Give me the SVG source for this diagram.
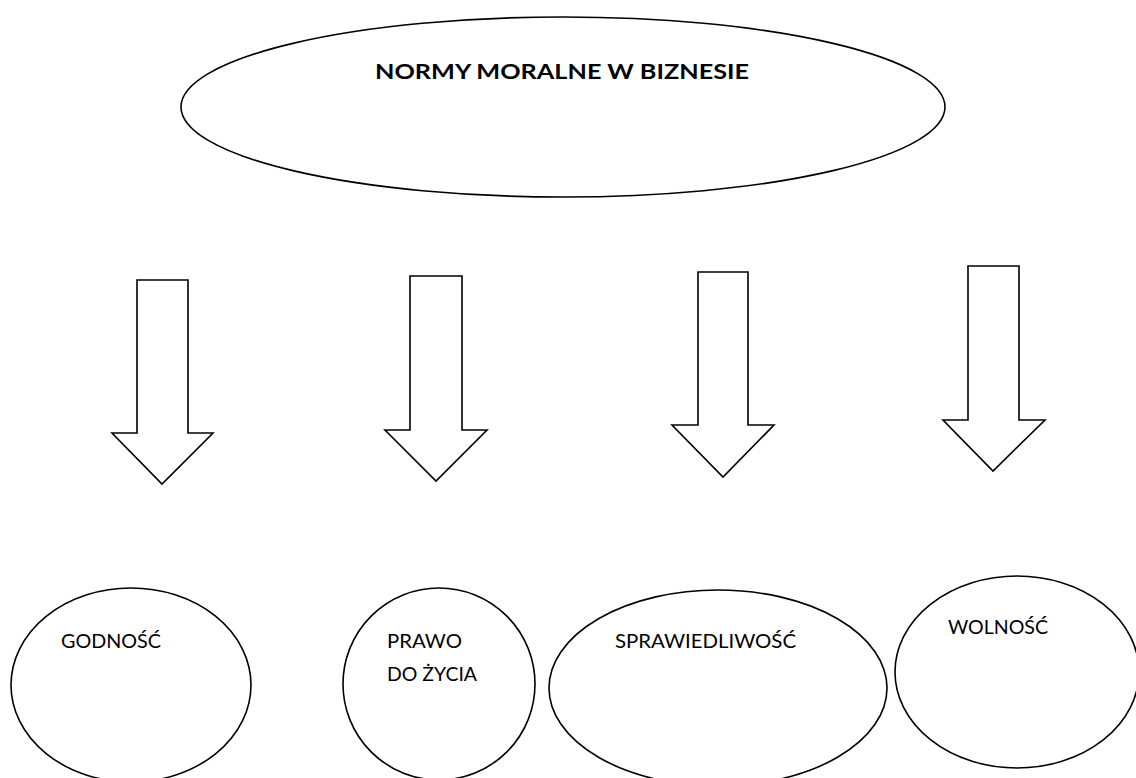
<svg xmlns="http://www.w3.org/2000/svg" width="1136" height="778" viewBox="0 0 1136 778">
  <style>
    .shape { fill: #ffffff; stroke: #000000; stroke-width: 1.6; }
    .arrow { fill: #ffffff; stroke: #000000; stroke-width: 1.6; stroke-linejoin: miter; }
    .title { font-family: Lato, "Liberation Sans", sans-serif; font-weight: bold; font-size: 21px; fill: #000000; }
    .label { font-family: Lato, "Liberation Sans", sans-serif; font-size: 19.5px; fill: #000000; }
  </style>
  <rect x="0" y="0" width="1136" height="778" fill="#ffffff"/>

  <g id="node-normy">
    <ellipse class="shape" cx="563" cy="107" rx="382" ry="90"/>
    <text class="title" x="375" y="79" textLength="374" lengthAdjust="spacingAndGlyphs">NORMY MORALNE W BIZNESIE</text>
  </g>

  <g id="connectors">
    <polygon class="arrow" points="137,280 188,280 188,433 213,433 162,484 112,433 137,433"/>
    <polygon class="arrow" points="410,276 462,276 462,430 487,430 436,481 385,430 410,430"/>
    <polygon class="arrow" points="698,272 748,272 748,425 774,425 723,477 672,425 698,425"/>
    <polygon class="arrow" points="968,266 1019,266 1019,420 1045,420 993,471 943,420 968,420"/>
  </g>

  <g id="node-godnosc">
    <ellipse class="shape" cx="131" cy="685" rx="120" ry="97"/>
    <text class="label" x="61" y="648" textLength="100" lengthAdjust="spacingAndGlyphs">GODNOŚĆ</text>
  </g>

  <g id="node-prawo">
    <ellipse class="shape" cx="439" cy="684" rx="96" ry="96"/>
    <text class="label" x="387" y="648" textLength="75" lengthAdjust="spacingAndGlyphs">PRAWO</text>
    <text class="label" x="387" y="681" textLength="90" lengthAdjust="spacingAndGlyphs">DO ŻYCIA</text>
  </g>

  <g id="node-sprawiedliwosc">
    <ellipse class="shape" cx="718" cy="688" rx="169" ry="98"/>
    <text class="label" x="615" y="648" textLength="181" lengthAdjust="spacingAndGlyphs">SPRAWIEDLIWOŚĆ</text>
  </g>

  <g id="node-wolnosc">
    <ellipse class="shape" cx="1017" cy="672" rx="122" ry="96"/>
    <text class="label" x="948" y="634" textLength="100" lengthAdjust="spacingAndGlyphs">WOLNOŚĆ</text>
  </g>
</svg>
